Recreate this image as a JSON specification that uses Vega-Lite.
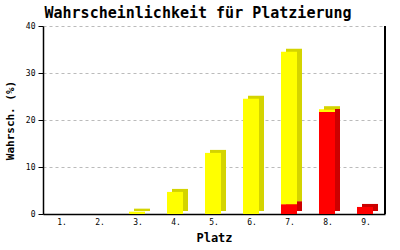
{
  "$schema": "https://vega.github.io/schema/vega-lite/v6.json",
  "width": 342,
  "height": 188,
  "autosize": {"type": "none"},
  "padding": {"left": 43, "top": 26, "right": 15, "bottom": 36},
  "background": "white",
  "config": {
    "font": "DejaVu Sans Mono",
    "view": {"stroke": null},
    "axis": {"labelFont": "DejaVu Sans Mono", "titleFont": "DejaVu Sans Mono"}
  },
  "title": {
    "text": "Wahrscheinlichkeit für Platzierung",
    "font": "DejaVu Sans Mono",
    "fontSize": 15,
    "fontWeight": "bold",
    "color": "black",
    "anchor": "middle",
    "dx": -16,
    "offset": 1
  },
  "data": {
    "values": [
      {"platz": "1.", "typ": "rot", "wert": 0},
      {"platz": "1.", "typ": "gelb", "wert": 0},
      {"platz": "2.", "typ": "rot", "wert": 0},
      {"platz": "2.", "typ": "gelb", "wert": 0},
      {"platz": "3.", "typ": "rot", "wert": 0},
      {"platz": "3.", "typ": "gelb", "wert": 0.5},
      {"platz": "4.", "typ": "rot", "wert": 0},
      {"platz": "4.", "typ": "gelb", "wert": 4.7},
      {"platz": "5.", "typ": "rot", "wert": 0},
      {"platz": "5.", "typ": "gelb", "wert": 13},
      {"platz": "6.", "typ": "rot", "wert": 0},
      {"platz": "6.", "typ": "gelb", "wert": 24.5},
      {"platz": "7.", "typ": "rot", "wert": 2.1},
      {"platz": "7.", "typ": "gelb", "wert": 32.4},
      {"platz": "8.", "typ": "rot", "wert": 21.7},
      {"platz": "8.", "typ": "gelb", "wert": 0.6},
      {"platz": "9.", "typ": "rot", "wert": 1.5},
      {"platz": "9.", "typ": "gelb", "wert": 0}
    ]
  },
  "encoding": {
    "x": {
      "field": "platz",
      "type": "ordinal",
      "scale": {"paddingInner": 0, "paddingOuter": 0},
      "axis": {
        "title": "Platz",
        "titleFontSize": 12,
        "titleFontWeight": "bold",
        "titleColor": "black",
        "titlePadding": 6,
        "labelAngle": 0,
        "labelFontSize": 8,
        "labelColor": "black",
        "labelPadding": 4,
        "ticks": false,
        "domainColor": "black",
        "domainWidth": 1.5,
        "grid": false
      }
    },
    "y": {
      "field": "wert",
      "type": "quantitative",
      "stack": "zero",
      "scale": {"domain": [0, 40], "nice": false},
      "axis": {
        "title": "Wahrsch. (%)",
        "titleFontSize": 11,
        "titleFontWeight": "bold",
        "titleColor": "black",
        "titlePadding": 10,
        "values": [0, 10, 20, 30, 40],
        "labelFontSize": 8,
        "labelColor": "black",
        "labelPadding": 3,
        "tickColor": "black",
        "tickSize": 5,
        "domainColor": "black",
        "domainWidth": 1.5,
        "grid": true,
        "gridColor": "#bbbbbb",
        "gridDash": [3, 3]
      }
    },
    "order": {"field": "typ", "sort": "descending"}
  },
  "layer": [
    {
      "mark": {"type": "bar", "size": 16, "xOffset": 4, "yOffset": -3},
      "encoding": {
        "color": {
          "field": "typ",
          "type": "nominal",
          "scale": {"domain": ["rot", "gelb"], "range": ["#cc0000", "#d4d400"]},
          "legend": null
        }
      }
    },
    {
      "mark": {"type": "bar", "size": 16, "xOffset": -1},
      "encoding": {
        "color": {
          "field": "typ",
          "type": "nominal",
          "scale": {"domain": ["rot", "gelb"], "range": ["#ff0000", "#ffff00"]},
          "legend": null
        }
      }
    },
    {
      "mark": {"type": "rule", "color": "black", "strokeWidth": 1.5},
      "encoding": {
        "x": {"datum": "9.", "type": "ordinal", "bandPosition": 1},
        "y": {"datum": 0},
        "y2": {"datum": 40},
        "order": null
      }
    }
  ],
  "resolve": {"scale": {"color": "independent"}}
}
